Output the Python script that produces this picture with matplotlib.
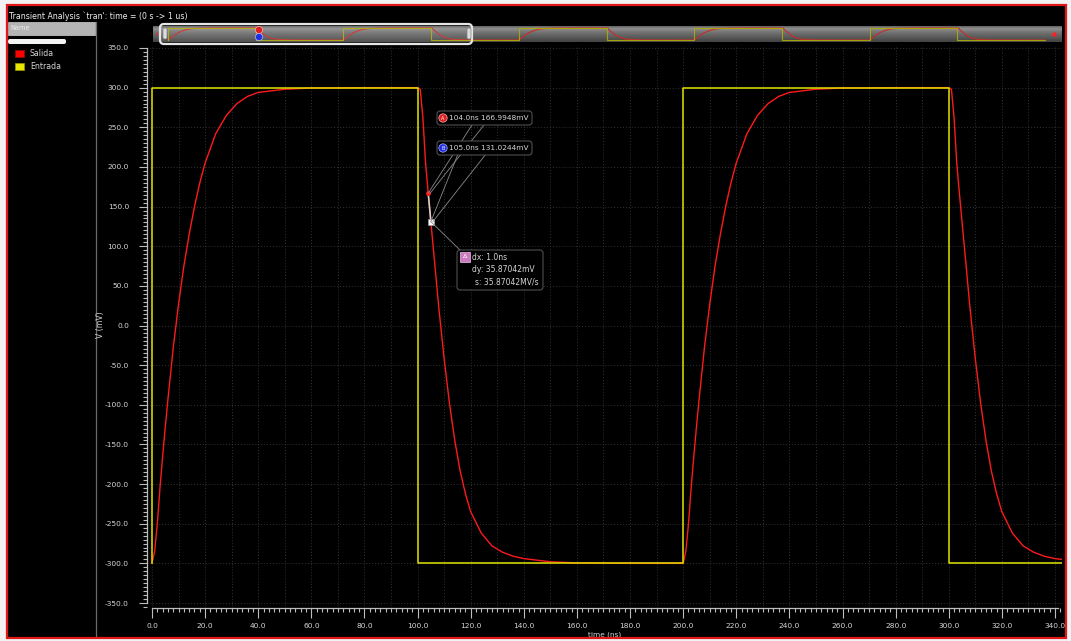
import numpy as np
import matplotlib
matplotlib.use("Agg")
import matplotlib.pyplot as plt
from matplotlib.patches import Rectangle, FancyBboxPatch, Circle
from matplotlib.lines import Line2D
from matplotlib.transforms import IdentityTransform
from matplotlib.ticker import MultipleLocator, FuncFormatter

# ---------------------------------------------------------------- data
# switching instants of the input square wave (ns) and its level after each
edge_times = [0, 100, 200, 300, 400, 500, 600, 700, 800, 900]
entrada_levels = [300, -300, 300, -300, 300, -300, 300, -300, 300, -300]
sim_end = 1000.0
entrada_initial = -300.0

# output response after an input edge (time after the edge in ns, mV)
shape_dt = [0, 1, 2, 3, 4, 5, 6, 7, 8, 9, 10, 12, 14, 16, 18, 20, 24, 28,
            32, 36, 40, 50, 60, 80, 100]
rise_mv = [-300, -285, -250, -205, -165, -128, -93, -60, -28, 0, 27, 75,
           115, 150, 180, 205, 242, 265, 280, 289, 294, 298, 299.5, 300, 300]
fall_mv = [300, 298, 262, 205, 167, 131, 95, 58, 22, -10, -42, -98, -145,
           -183, -212, -235, -262, -278, -286, -291, -294, -298, -299.5,
           -300, -300]

# cursor readouts
marker_a = (104.0, 166.9948)
marker_b = (105.0, 131.0244)
delta_lines = ["dx: 1.0ns", "dy: 35.87042mV", "s: 35.87042MV/s"]

series_names = ["Salida", "Entrada"]
title_text = "Transient Analysis `tran': time = (0 s -> 1 us)"

# ---------------------------------------------------------------- waveforms
sal_t, sal_v = [], []
for i, t0 in enumerate(edge_times):
    shape = rise_mv if entrada_levels[i] > 0 else fall_mv
    for dt, mv in zip(shape_dt, shape):
        sal_t.append(t0 + dt)
        sal_v.append(mv)

ent_t = [0.0] + edge_times + [sim_end]
ent_v = [entrada_initial] + entrada_levels + [entrada_levels[-1]]

# ---------------------------------------------------------------- figure
W, H = 1071, 641
fig = plt.figure(figsize=(W / 100, H / 100), dpi=100, facecolor="#f2f2f2")
PX = IdentityTransform()
RED = "#ff1a1a"
YEL = "#e2e200"
TXT = "#d6d6d6"
FONT = "DejaVu Sans"


def prect(x0, y0, x1, y1):
    """axes rectangle from pixel box (origin top-left)"""
    return [x0 / W, 1 - y1 / H, (x1 - x0) / W, (y1 - y0) / H]


def ptext(x, y, s, **kw):
    kw.setdefault("color", TXT)
    kw.setdefault("fontsize", 5.3)
    kw.setdefault("family", FONT)
    kw.setdefault("va", "center")
    return fig.text(x / W, 1 - y / H, s, **kw)


def pbox(x0, y0, x1, y1, **kw):
    r = Rectangle((x0, H - y1), x1 - x0, y1 - y0, transform=PX, **kw)
    fig.add_artist(r)
    return r


# black window body
pbox(7, 5, 1066, 638, facecolor="black", edgecolor="none", zorder=-20)

# ---------------------------------------------------------------- main plot
XS = 903 / 340.0          # px per ns
YS = 555 / 700.0          # px per mV
ax = fig.add_axes(prect(147, 45, 1062, 608))
ax.set_facecolor("black")
ax.set_xlim((147 - 152) / XS, (1062 - 152) / XS)
ax.set_ylim(-350 - 5 / YS, 350 + 3 / YS)

for t in np.arange(0, 341, 10):
    ax.axvline(t, color="#333333", lw=0.7, ls=(0, (1, 2)), zorder=0)
for v in np.arange(-350, 351, 50):
    ax.axhline(v, color="#333333", lw=0.7, ls=(0, (1, 2)), zorder=0)

ax.plot(sal_t, sal_v, color=RED, lw=1.0, zorder=3)
ax.plot(ent_t, ent_v, color=YEL, lw=1.1, drawstyle="steps-post", zorder=4)

for s in ("top", "right"):
    ax.spines[s].set_visible(False)
for s in ("left", "bottom"):
    ax.spines[s].set_color("#bdbdbd")
    ax.spines[s].set_linewidth(0.9)
ax.spines["left"].set_bounds(-350, 350)
ax.spines["bottom"].set_bounds(0, 341)

ax.yaxis.set_major_locator(MultipleLocator(50))
ax.yaxis.set_minor_locator(MultipleLocator(5))
ax.xaxis.set_major_locator(MultipleLocator(20))
ax.xaxis.set_minor_locator(MultipleLocator(2))
fmt = FuncFormatter(lambda v, p: f"{v:.1f}")
ax.xaxis.set_major_formatter(fmt)
ax.yaxis.set_major_formatter(fmt)
ax.tick_params(which="both", direction="out", color="#bdbdbd", width=0.8,
               labelcolor=TXT, labelsize=5.4)
ax.tick_params(axis="y", which="major", length=6, pad=7)
ax.tick_params(axis="y", which="minor", length=3)
ax.tick_params(axis="x", which="major", length=7, pad=4)
ax.tick_params(axis="x", which="minor", length=3)
for lab in ax.get_xticklabels() + ax.get_yticklabels():
    lab.set_family(FONT)

ptext(605, 635, "time (ns)", ha="center")
ptext(100, 325, "V (mV)", ha="center", rotation=90, fontsize=5.6)

# ---------------------------------------------------------------- cursors
ax.plot(*marker_a, marker="o", ms=2.5, color=RED, mec=RED, zorder=6)
ax.plot([marker_a[0], marker_b[0]], [marker_a[1], marker_b[1]],
        color="#d0d0d0", lw=1.2, zorder=5)
ax.plot(*marker_b, marker="s", ms=4, color="white", mec="#999999",
        mew=0.5, zorder=6)

fig.canvas.draw()
pa = ax.transData.transform(marker_a)
pb = ax.transData.transform(marker_b)


def pline(x0, y0, x1, y1, **kw):
    kw.setdefault("color", "#8a8a8a")
    kw.setdefault("lw", 0.6)
    fig.add_artist(Line2D([x0, x1], [y0, y1], transform=PX, **kw))


# leader lines (display coords, origin bottom-left)
pline(472, H - 125, pa[0], pa[1])
pline(484, H - 125, pa[0] + 2, pa[1])
pline(458, H - 154, pb[0], pb[1])
pline(486, H - 154, pb[0] + 2, pb[1])
pline(pb[0], pb[1], 462, H - 252)

labels = [(marker_a, 118, "#e02020", "A"), (marker_b, 148, "#2030e0", "B")]
for (t, v), y, col, tag in labels:
    txt = f"{t:.1f}ns {v:.4f}mV"
    fig.add_artist(FancyBboxPatch((437, H - y - 7), 95, 14, transform=PX,
                                  boxstyle="round,pad=0,rounding_size=3",
                                  facecolor="black", edgecolor="#5a5a5a",
                                  lw=0.7, zorder=7))
    fig.add_artist(Circle((443, H - y), 4.2, transform=PX, facecolor=col,
                          edgecolor="#ffaaaa" if tag == "A" else "#aab0ff",
                          lw=0.5, zorder=8))
    ptext(443, y, tag, ha="center", fontsize=3.5, color="white", zorder=9)
    ptext(449, y, txt, ha="left", zorder=9)

fig.add_artist(FancyBboxPatch((457, H - 290), 86, 40, transform=PX,
                              boxstyle="round,pad=0,rounding_size=3",
                              facecolor="black", edgecolor="#5a5a5a",
                              lw=0.7, zorder=7))
pbox(460, 252, 470, 262, facecolor="#cc7ac0", edgecolor="#f0c0f0", lw=0.5,
     zorder=8)
ptext(465, 257, "\u0394", ha="center", fontsize=4.5, color="white", zorder=9)
ptext(472, 257, delta_lines[0], ha="left", zorder=9, fontsize=5.5)
ptext(472, 269, delta_lines[1], ha="left", zorder=9, fontsize=5.5)
ptext(475, 282, delta_lines[2], ha="left", zorder=9, fontsize=5.5)

# ---------------------------------------------------------------- overview strip
SXS = 877 / 1000.0
sx = fig.add_axes(prect(153, 26, 1062, 42))
sx.set_axis_off()
sx.set_xlim((153 - 168) / SXS, (1062 - 168) / SXS)
sx.set_ylim(-400, 400)
shade = np.array([0.42, 0.55, 0.52, 0.47, 0.43, 0.40, 0.37, 0.34, 0.30, 0.27])
sx.imshow(shade[:, None], extent=[*sx.get_xlim(), -400, 400], aspect="auto",
          cmap="gray", vmin=0, vmax=1, interpolation="bilinear", zorder=0)
sx.plot(sal_t, sal_v, color="#c82a2a", lw=0.8, zorder=2)
sx.plot(ent_t, ent_v, color="#b0b000", lw=0.8, drawstyle="steps-post",
        zorder=3, alpha=0.85)
sx.plot([sim_end * 1.01], [0], "o", color="#ff2020", ms=2.2, zorder=4)

# selection window over the shown range
fig.add_artist(FancyBboxPatch((160, H - 44), 312, 20, transform=PX,
                              boxstyle="round,pad=0,rounding_size=4",
                              facecolor=(1, 1, 1, 0.08), edgecolor="#e6e6e6",
                              lw=1.6, zorder=5))
for hx in (165, 469):
    fig.add_artist(FancyBboxPatch((hx - 2, H - 39), 4, 11, transform=PX,
                                  boxstyle="round,pad=0,rounding_size=1.5",
                                  facecolor="#dcdcdc", edgecolor="#808080",
                                  lw=0.5, zorder=6))
fig.add_artist(Circle((259, H - 30), 3.6, transform=PX, facecolor="#e02020",
                      edgecolor="#ffb0b0", lw=0.5, zorder=7))
fig.add_artist(Circle((259, H - 37), 3.6, transform=PX, facecolor="#2030e0",
                      edgecolor="#b0b8ff", lw=0.5, zorder=7))
ptext(157, 33, "\u25b4", color="#e03030", fontsize=4, ha="center")

# ---------------------------------------------------------------- side panel
ptext(9, 16, title_text, ha="left", color="#f0f0f0", fontsize=5.6)
ptext(1066, 14, "1", ha="center", color="#f0f0f0", fontsize=5.0)
pbox(8, 22, 95, 35, facecolor="#b4b4b4", edgecolor="#d0d0d0", lw=0.5)
ptext(10, 28.5, "Name", ha="left", color="#ececec", fontsize=4.8)
fig.add_artist(FancyBboxPatch((8, H - 44), 58, 5, transform=PX,
                              boxstyle="round,pad=0,rounding_size=2",
                              facecolor="#f4f4f4", edgecolor="none"))
pbox(15, 50, 24, 57, facecolor="#ff0000", edgecolor="#aa0000", lw=0.5)
pbox(15, 63, 24, 70, facecolor="#e6e600", edgecolor="#999900", lw=0.5)
ptext(30, 53.5, series_names[0], ha="left", fontsize=5.6)
ptext(30, 66.5, series_names[1], ha="left", fontsize=5.6)
pline(95.5, H - 22, 95.5, H - 637, color="#6a6a6a", lw=0.9)

# outer frame
pbox(7, 5, 1066, 638, facecolor="none", edgecolor="#e01818", lw=1.6,
     zorder=20)

fig.savefig("out.png", dpi=100, facecolor=fig.get_facecolor())
